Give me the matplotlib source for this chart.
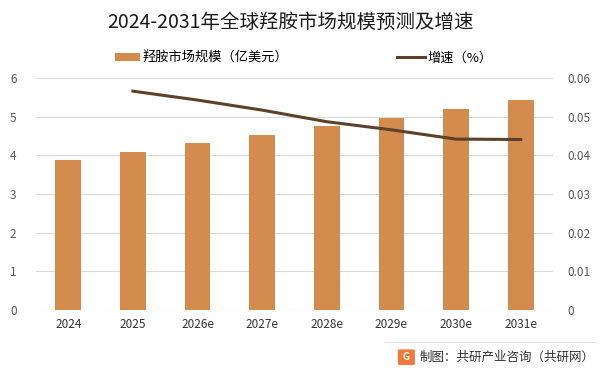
import matplotlib.pyplot as plt
from matplotlib.patches import FancyBboxPatch
import numpy as np

plt.rcParams['font.family'] = ['Noto Sans CJK SC', 'DejaVu Sans']

years = ["2024", "2025", "2026e", "2027e", "2028e", "2029e", "2030e", "2031e"]
scale = [3.88, 4.08, 4.32, 4.52, 4.75, 4.96, 5.19, 5.43]
growth = [None, 0.0566, 0.0543, 0.0517, 0.0487, 0.0466, 0.0442, 0.0441]

bar_color = "#d48c4e"
line_color = "#5e4128"
tick_color = "#595959"

fig = plt.figure(figsize=(6.02, 3.74), dpi=100)
ax = fig.add_axes([0.0598, 0.171, 0.8588, 0.6204])
x = np.arange(len(years))
ax.bar(x, scale, width=0.4, color=bar_color, zorder=2, label="羟胺市场规模（亿美元）")
ax.set_xlim(-0.5, len(years) - 0.5)
ax.set_ylim(0, 6)
ax.set_yticks(range(0, 7))
ax.set_xticks(x)
ax.set_xticklabels(years, fontsize=8.5, color="#333333")
ax.tick_params(axis='y', colors=tick_color, labelsize=8.5, length=0, pad=14)
ax.tick_params(axis='x', length=0, pad=6)
ax.grid(axis='y', color="#d9d9d9", linewidth=0.8, zorder=0)
for s in ax.spines.values():
    s.set_visible(False)

ax2 = ax.twinx()
gx = [i for i, g in enumerate(growth) if g is not None]
gy = [g for g in growth if g is not None]
ax2.plot(gx, gy, color=line_color, linewidth=2.2, label="增速（%）")
ax2.set_ylim(0, 0.06)
ax2.set_yticks([0, 0.01, 0.02, 0.03, 0.04, 0.05, 0.06])
ax2.set_yticklabels(["0", "0.01", "0.02", "0.03", "0.04", "0.05", "0.06"])
ax2.tick_params(axis='y', colors=tick_color, labelsize=8.5, length=0, pad=10)
for s in ax2.spines.values():
    s.set_visible(False)

fig.text(0.482, 0.94, "2024-2031年全球羟胺市场规模预测及增速", ha='center', va='center',
         fontsize=14, color="#1a1a1a")

# legend
h1, l1 = ax.get_legend_handles_labels()
h2, l2 = ax2.get_legend_handles_labels()
fig.legend([h1[0]], l1, loc='center left', bbox_to_anchor=(0.171, 0.845), frameon=False,
           fontsize=9.5, handlelength=1.9, handleheight=0.55, handletextpad=0.2)
fig.legend([h2[0]], l2, loc='center left', bbox_to_anchor=(0.64, 0.845), frameon=False,
           fontsize=9.5, handlelength=2.1, handletextpad=0.2)

# footer
fig.add_artist(plt.Line2D([0.64, 0.99], [0.086, 0.086], color="#e6e6e6", linewidth=0.8))
logo = FancyBboxPatch((0.664, 0.028), 0.022, 0.034, boxstyle="round,pad=0.002",
                      transform=fig.transFigure, color="#ef7a3a")
fig.add_artist(logo)
fig.text(0.675, 0.045, "G", ha='center', va='center', fontsize=7, color="white", weight='bold')
fig.text(0.697, 0.045, "制图：共研产业咨询（共研网）", ha='left', va='center',
         fontsize=9, color="#333333")

fig.savefig("out.png", dpi=100)
